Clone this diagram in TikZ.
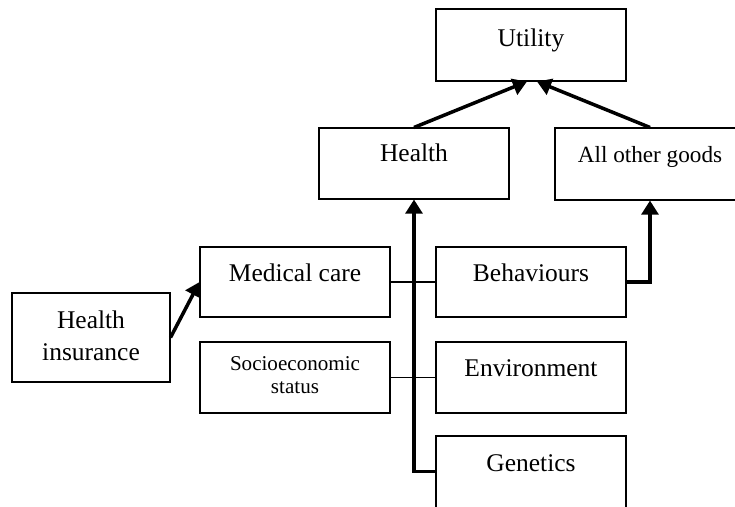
\documentclass[tikz,border=0pt]{standalone}
\usepackage{fontspec}
\setmainfont{Liberation Serif}
\usetikzlibrary{arrows.meta,calc}

\tikzset{
  box/.style={draw,line width=0.6pt,minimum width=3.8cm,minimum height=1.42cm,inner sep=0pt},
  txt/.style={anchor=base,inner sep=0pt,font=\fontsize{14.5}{18}\selectfont},
  link/.style={line width=0.6pt},
  flow/.style={line width=2pt,-{Triangle[length=8pt,width=9.5pt]}},
}

\begin{document}
\begin{tikzpicture}[x=0.02cm,y=-0.02cm]
        \useasboundingbox[fill=white](0,0) rectangle (735,507);
        % top row
        \node[box,minimum height=1.44cm] (util) at (531,45) {};
        \node[txt] (util-t) at ($(util.north)+(0,38)$) {Utility};
        \node[box] (health) at (414,163.5) {};
        \node[txt] (health-t) at ($(health.north)+(0,34)$) {Health};
        \node[box,minimum height=1.44cm] (aog) at (650,164) {};
        \node[txt,font=\fontsize{13.2}{16}\selectfont] (aog-t) at ($(aog.north)+(0,35)$) {All other goods};
        % determinants
        \node[box,minimum height=1.4cm] (med) at (295,282) {};
        \node[txt] (med-t) at ($(med.north)+(0,35)$) {Medical care};
        \node[box] (soc) at (295,377.5) {};
        \node[txt,anchor=north,align=center,font=\fontsize{12}{13}\selectfont]
          (soc-t) at ($(soc.north)+(0,15)$) {Socioeconomic\\status};
        \node[box,minimum width=3.16cm,minimum height=1.78cm] (hi) at (91,337.5) {};
        \node[txt,anchor=north,align=center] (hi-t) at ($(hi.north)+(0,18)$) {Health\\insurance};
        \node[box,minimum height=1.4cm] (beh) at (531,282) {};
        \node[txt] (beh-t) at ($(beh.north)+(0,35)$) {Behaviours};
        \node[box] (env) at (531,377.5) {};
        \node[txt] (env-t) at ($(env.north)+(0,35)$) {Environment};
        \node[box,minimum height=1.68cm] (gen) at (531,478) {};
        \node[txt] (gen-t) at ($(gen.north)+(0,36)$) {Genetics};
        \coordinate (gen-in) at ($(gen.north west)+(0,36)$);
        % connectors
        \draw[link] (med.east) -- (beh.west);
        \draw[link] (soc.east) -- (env.west);
        \draw[flow] (hi.east) -- (med.west);
        \draw[flow] (gen-in) -| (health.south);
        \draw[flow] (beh.east) -| (aog.south);
        \draw[flow] (health.north) -- ($(util.south)+(-4,0)$);
        \draw[flow] (aog.north) -- ($(util.south)+(6,0)$);
      \end{tikzpicture}
\end{document}
